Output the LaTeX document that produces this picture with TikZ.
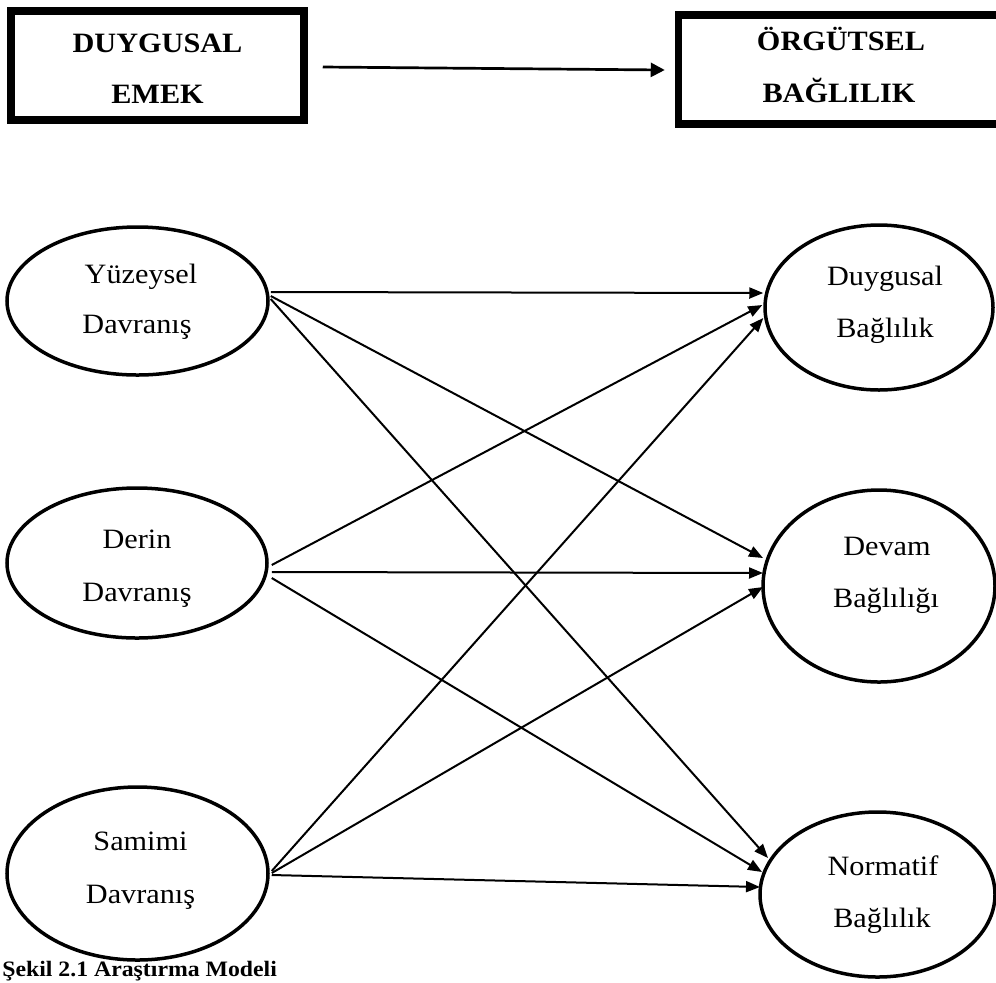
\documentclass[tikz,border=0pt]{standalone}
\usepackage{fontspec}
\setmainfont{Liberation Serif}[FakeStretch=1.08]
\usetikzlibrary{arrows.meta,shapes.geometric,calc}
\begin{document}
\begin{tikzpicture}[x=0.5pt,y=-0.5pt,
  oval/.style={ellipse,draw,line width=1.75pt,inner sep=0pt},
  hbox/.style={rectangle,draw,line width=3.75pt,inner sep=0pt,minimum height=54.5pt},
  lbl/.style={anchor=base,inner sep=0pt,font=\fontsize{14}{16}\selectfont},
  blbl/.style={anchor=base,inner sep=0pt,font=\fontsize{14}{16}\selectfont\bfseries},
  conn/.style={line width=1pt,-{Triangle[length=7pt,width=5.5pt]}},
]
\useasboundingbox (0,0) rectangle (996,982);
\clip (0,0) rectangle (996,982);

% header boxes
\node[hbox,minimum width=146.5pt] (de) at (157.5,65.5) {};
\node[hbox,minimum width=162.25pt] (ob) at (840.75,69.5) {};
\node[blbl] (de1) at (157.5,52) {DUYGUSAL};
\node[blbl] (de2) at (157.5,103) {EMEK};
\node[blbl] (ob1) at (841,50) {ÖRGÜTSEL};
\node[blbl] (ob2) at (839,102) {BAĞLILIK};
\draw[line width=1.35pt,-{Triangle[length=7pt,width=7pt]}] ($(de.east)+(15,1.5)$) -- ($(ob.west)+(-10,0.5)$);

% ellipses
\node[oval,minimum width=130.5pt,minimum height=74pt] (ys) at (137.5,301) {};
\node[oval,minimum width=130pt,minimum height=75pt] (dr) at (137,563) {};
\node[oval,minimum width=130.5pt,minimum height=86.5pt] (sm) at (137.5,873.5) {};
\node[oval,minimum width=114pt,minimum height=82.5pt] (db) at (879,307.5) {};
\node[oval,minimum width=116pt,minimum height=96pt] (dv) at (879,586) {};
\node[oval,minimum width=117.5pt,minimum height=82.5pt] (nb) at (877.5,894.5) {};

% labels
\node[lbl] (ys1) at (141,283) {Yüzeysel};
\node[lbl] (ys2) at (137,333) {Davranış};
\node[lbl] (dr1) at (137,548) {Derin};
\node[lbl] (dr2) at (137,601) {Davranış};
\node[lbl] (sm1) at (140.5,850) {Samimi};
\node[lbl] (sm2) at (140.5,903) {Davranış};
\node[lbl] (db1) at (885,285) {Duygusal};
\node[lbl] (db2) at (885,337) {Bağlılık};
\node[lbl] (dv1) at (887,555) {Devam};
\node[lbl] (dv2) at (886,607) {Bağlılığı};
\node[lbl] (nb1) at (883,875) {Normatif};
\node[lbl] (nb2) at (882,927) {Bağlılık};

% connectors
\draw[conn] ($(ys.east)+(1,-9)$) -- ($(db.west)+(0,-14.5)$);
\draw[conn] ($(ys.east)+(1,-5)$) -- ($(dv.west)+(1.75,-28)$);
\draw[conn] ($(ys.east)+(1,-2)$) -- ($(nb.west)+(9.75,-36.5)$);
\draw[conn] ($(dr.east)+(3,2)$) -- ($(db.west)+(-1,-2.5)$);
\draw[conn] ($(dr.east)+(3,9)$) -- ($(dv.west)+(1.75,-13)$);
\draw[conn] ($(dr.east)+(3,15)$) -- ($(nb.west)+(3.75,-22.5)$);
\draw[conn] ($(sm.east)+(2,-2.5)$) -- ($(db.west)+(0,10.5)$);
\draw[conn] ($(sm.east)+(2,-0.5)$) -- ($(dv.west)+(1.75,1)$);
\draw[conn] ($(sm.east)+(2,1.5)$) -- ($(nb.west)+(1.75,-7.5)$);

% caption
\node[anchor=base west,inner sep=0pt,font=\fontsize{11}{13}\selectfont\bfseries] (cap) at (2,976) {Şekil 2.1 Araştırma Modeli};
\end{tikzpicture}
\end{document}
